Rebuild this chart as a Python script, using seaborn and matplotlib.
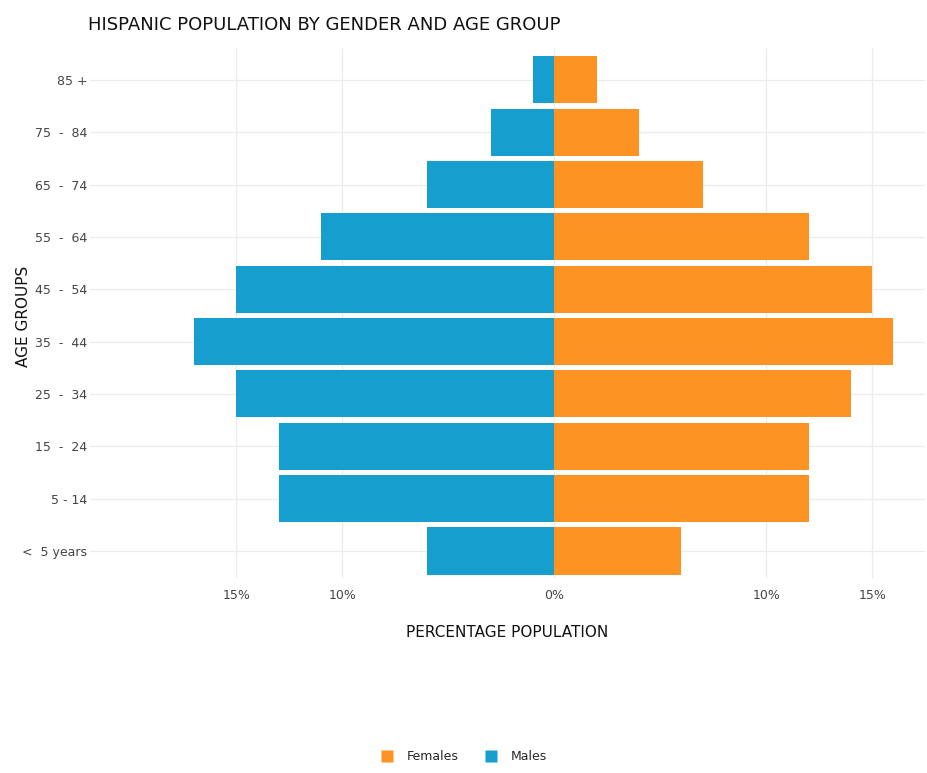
import numpy as np
import pandas as pd
import matplotlib
matplotlib.use("Agg")
import matplotlib.pyplot as plt
import seaborn as sns
from matplotlib.lines import Line2D

# Age groups, top of the pyramid first
age_groups = ["85 +", "75  -  84", "65  -  74", "55  -  64", "45  -  54",
              "35  -  44", "25  -  34", "15  -  24", "5 - 14", "<  5 years"]
males = [1, 3, 6, 11, 15, 17, 15, 13, 13, 6]
females = [2, 4, 7, 12, 15, 16, 14, 12, 12, 6]
x_ticks = [-15, -10, 0, 10, 15]

FEMALE_COLOR = "#FC9322"
MALE_COLOR = "#169ECF"

df = pd.DataFrame({
    "age": age_groups * 2,
    "sex": ["Males"] * len(age_groups) + ["Females"] * len(age_groups),
    "pct": [-m for m in males] + females,
})

sns.set_style("white")
plt.rcParams["font.family"] = ["DejaVu Sans"]

fig, ax = plt.subplots(figsize=(9.27, 7.73), dpi=100)
fig.subplots_adjust(left=0.097, right=0.998, top=0.938, bottom=0.252)

sns.barplot(data=df, y="age", x="pct", hue="sex", order=age_groups,
            hue_order=["Males", "Females"],
            palette={"Males": MALE_COLOR, "Females": FEMALE_COLOR},
            saturation=1, dodge=False, width=0.9, orient="h", legend=False,
            ax=ax, edgecolor="none", zorder=3)

ax.set_xlim(-21.9, 17.5)
ax.set_ylim(9.52, -0.61)
ax.set_xticks(x_ticks)
ax.set_xticklabels([f"{abs(t)}%" for t in x_ticks])
ax.tick_params(axis="both", length=0, labelsize=9, colors="#444444")
ax.tick_params(axis="y", pad=2)
ax.tick_params(axis="x", pad=8)
ax.grid(True, color="#ececec", linewidth=0.9, zorder=0)
ax.set_axisbelow(True)
for s in ax.spines.values():
    s.set_visible(False)

ax.set_xlabel("PERCENTAGE POPULATION", fontsize=11, color="#111111", labelpad=16)
ax.set_ylabel("")
fig.text(24 / 927, 1 - 316 / 773, "AGE GROUPS", fontsize=11, color="#111111",
         rotation=90, ha="center", va="center")

fig.text(0.095, 0.968, "HISPANIC POPULATION BY GENDER AND AGE GROUP",
         fontsize=13, color="#111111", ha="left", va="center")

handles = [
    Line2D([], [], marker="s", linestyle="none", markersize=9,
           markerfacecolor=FEMALE_COLOR, markeredgecolor="none", label="Females"),
    Line2D([], [], marker="s", linestyle="none", markersize=9,
           markerfacecolor=MALE_COLOR, markeredgecolor="none", label="Males"),
]
fig.legend(handles=handles, loc="center", bbox_to_anchor=(0.497, 0.021), ncol=2,
           frameon=False, fontsize=9, handletextpad=0.6, columnspacing=1.6)

fig.savefig("out.png", dpi=100)
